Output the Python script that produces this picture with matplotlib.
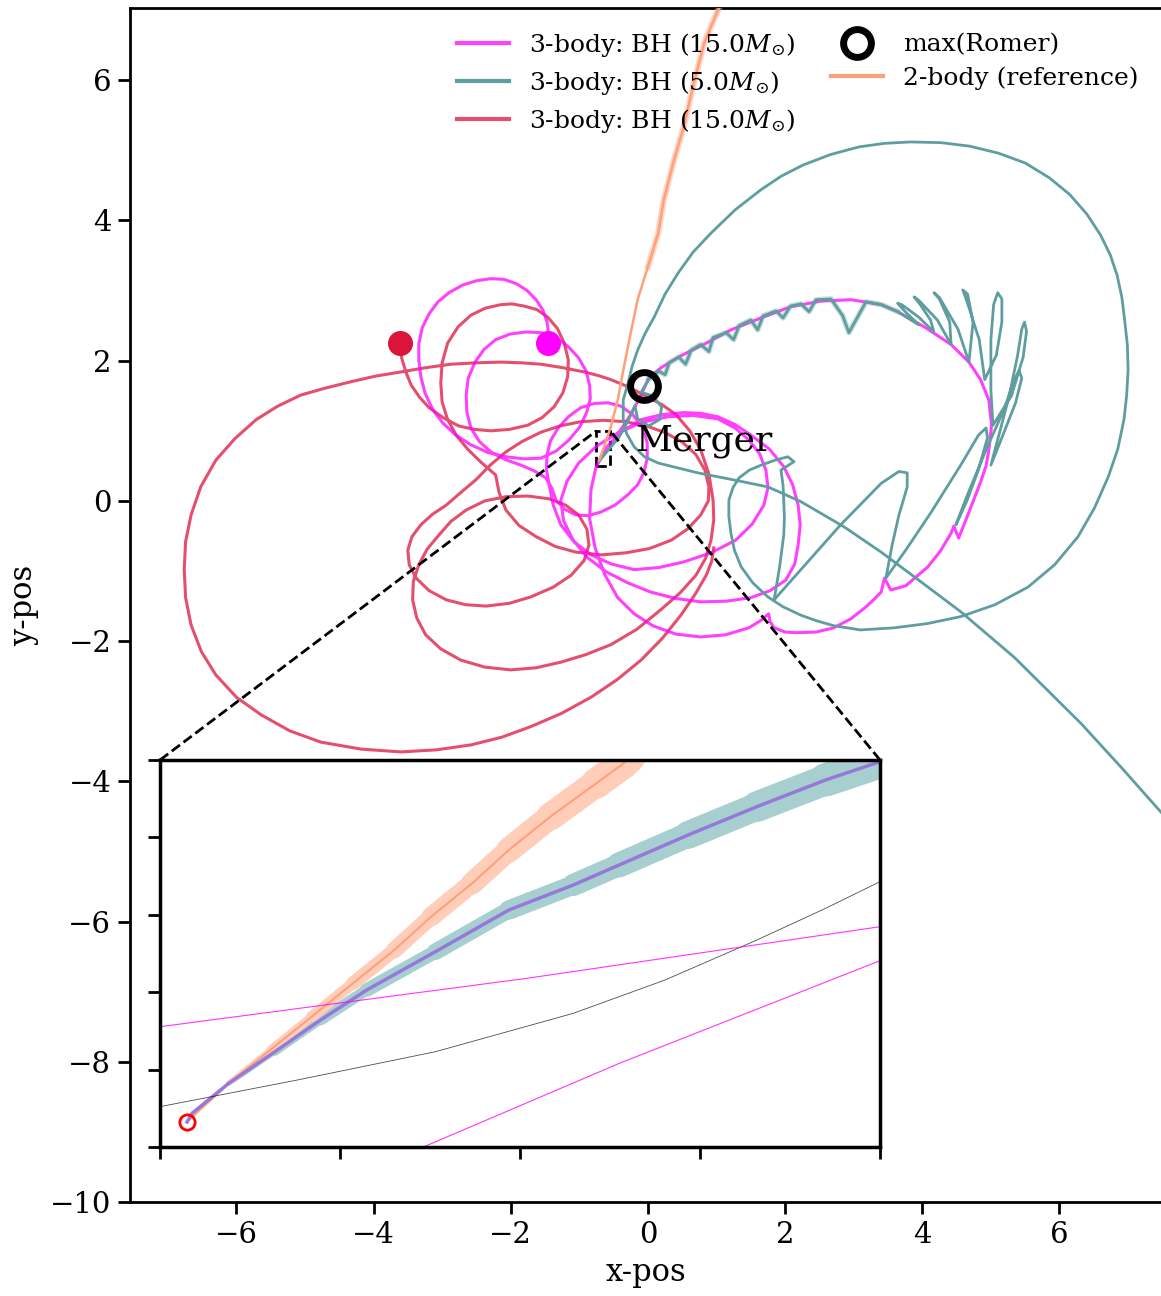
import numpy as np
import matplotlib
matplotlib.use("Agg")
import matplotlib.pyplot as plt
from matplotlib.collections import LineCollection
from mpl_toolkits.axes_grid1.inset_locator import mark_inset

plt.rcParams['font.family'] = 'serif'
plt.rcParams['mathtext.fontset'] = 'dejavuserif'

# ---- trajectories (x-pos, y-pos) ----
red_xy = [(-3.62, 2.25), (-3.60, 2.15), (-3.59, 2.04), (-3.53, 1.84), (-3.45, 1.65), (-3.33, 1.48),
          (-3.19, 1.33), (-2.99, 1.19), (-2.76, 1.07), (-2.53, 1.02), (-2.29, 1.00),
          (-2.02, 1.02), (-1.75, 1.08), (-1.54, 1.19), (-1.37, 1.34), (-1.24, 1.54), (-1.17, 1.77),
          (-1.16, 2.01), (-1.22, 2.25), (-1.32, 2.46), (-1.46, 2.62), (-1.62, 2.73), (-1.81, 2.78),
          (-1.98, 2.81), (-2.14, 2.80), (-2.37, 2.75), (-2.58, 2.65), (-2.77, 2.48), (-2.92, 2.25),
          (-3.00, 1.97), (-3.02, 1.68), (-3.00, 1.41), (-2.92, 1.16), (-2.79, 0.93), (-2.62, 0.73),
          (-2.42, 0.54),
          (-2.22, 0.37), (-2.17, 0.12), (-2.07, -0.13), (-1.88, -0.35), (-1.63, -0.51), (-1.35, -0.65),
          (-1.05, -0.73), (-0.68, -0.77), (-0.32, -0.74), (0.02, -0.68), (0.34, -0.56), (0.58, -0.40),
          (0.77, -0.20), (0.88, 0.00), (0.89, 0.20), (0.83, 0.44), (0.70, 0.66), (0.50, 0.84),
          (0.26, 0.97), (-0.02, 1.07), (-0.32, 1.13), (-0.65, 1.15), (-0.98, 1.13), (-1.28, 1.07),
          (-1.56, 0.98), (-1.83, 0.85), (-2.07, 0.70), (-2.30, 0.51), (-2.51, 0.30), (-2.74, 0.11),
          (-2.94, -0.06),
          (-3.14, -0.19), (-3.31, -0.34), (-3.44, -0.51), (-3.50, -0.70), (-3.48, -0.91), (-3.38, -1.10),
          (-3.19, -1.28), (-2.94, -1.41), (-2.66, -1.48), (-2.36, -1.50), (-2.02, -1.46), (-1.71, -1.37),
          (-1.38, -1.23), (-1.12, -1.06), (-0.93, -0.85), (-0.86, -0.63), (-0.89, -0.40), (-1.01, -0.20),
          (-1.20, -0.06), (-1.44, 0.03), (-1.75, 0.07), (-2.07, 0.06), (-2.38, 0.00), (-2.65, -0.13),
          (-2.87, -0.29), (-3.05, -0.49),
          (-3.22, -0.69), (-3.34, -0.91), (-3.42, -1.15), (-3.43, -1.41), (-3.37, -1.67), (-3.24, -1.91),
          (-3.02, -2.11), (-2.73, -2.27), (-2.38, -2.37), (-2.00, -2.41), (-1.63, -2.38), (-1.27, -2.30),
          (-0.90, -2.19), (-0.54, -2.05), (-0.16, -1.83), (0.19, -1.55), (0.47, -1.31), (0.70, -1.06),
          (0.84, -0.82), (0.92, -0.56), (0.96, -0.27), (0.95, 0.01), (0.89, 0.38), (0.77, 0.73),
          (0.61, 1.00), (0.41, 1.23), (0.21, 1.37), (0.00, 1.48), (-0.27, 1.62),
          (-0.54, 1.73), (-0.73, 1.79), (-0.93, 1.84), (-1.24, 1.90), (-1.56, 1.95), (-1.85, 1.97),
          (-2.14, 1.98), (-2.50, 1.97), (-2.87, 1.95), (-3.24, 1.90), (-3.60, 1.84), (-3.97, 1.78),
          (-4.33, 1.70), (-4.70, 1.61), (-5.06, 1.51), (-5.40, 1.35), (-5.71, 1.16), (-6.02, 0.89),
          (-6.30, 0.58), (-6.52, 0.20), (-6.66, -0.20), (-6.74, -0.58), (-6.76, -0.98), (-6.74, -1.38),
          (-6.66, -1.77), (-6.51, -2.15), (-6.30, -2.48), (-6.00, -2.80), (-5.64, -3.05), (-5.22, -3.28),
          (-4.77, -3.44), (-4.18, -3.54), (-3.60, -3.58), (-3.08, -3.55), (-2.58, -3.48), (-2.13, -3.37),
          (-1.71, -3.22), (-1.26, -3.03), (-0.83, -2.80), (-0.45, -2.55), (-0.10, -2.27), (0.21, -1.96),
          (0.48, -1.63), (0.69, -1.33), (0.85, -1.06), (0.93, -0.86), (0.96, -0.67)]

pink_xy = [(-1.46, 2.25), (-1.45, 2.40), (-1.47, 2.55), (-1.53, 2.72), (-1.63, 2.87), (-1.76, 3.00),
           (-1.92, 3.10), (-2.10, 3.16), (-2.29, 3.17), (-2.50, 3.14), (-2.70, 3.08), (-2.90, 2.97),
           (-3.06, 2.84), (-3.19, 2.67), (-3.29, 2.47), (-3.34, 2.24), (-3.34, 2.01), (-3.31, 1.77),
           (-3.25, 1.54), (-3.14, 1.31), (-2.99, 1.11), (-2.80, 0.94), (-2.58, 0.80), (-2.33, 0.69),
           (-2.07, 0.63), (-1.81, 0.60),
           (-1.56, 0.61), (-1.34, 0.71), (-1.15, 0.87), (-0.99, 1.06), (-0.89, 1.27), (-0.84, 1.46),
           (-0.85, 1.65), (-0.90, 1.85), (-1.01, 2.04), (-1.16, 2.20), (-1.34, 2.33), (-1.55, 2.40),
           (-1.78, 2.41), (-2.01, 2.38), (-2.22, 2.30), (-2.39, 2.16), (-2.52, 1.98), (-2.62, 1.75),
           (-2.65, 1.51), (-2.64, 1.27), (-2.58, 1.04), (-2.46, 0.85), (-2.29, 0.70), (-2.08, 0.59),
           (-1.85, 0.51), (-1.66, 0.43), (-1.49, 0.33),
           (-1.40, 0.18), (-1.34, 0.01), (-1.21, -0.12), (-1.05, -0.20), (-0.87, -0.21), (-0.69, -0.16),
           (-0.48, -0.06), (-0.29, 0.09), (-0.15, 0.23), (-0.06, 0.40), (-0.01, 0.61), (-0.01, 0.83),
           (-0.08, 1.05), (-0.22, 1.23), (-0.39, 1.35), (-0.58, 1.40), (-0.78, 1.39), (-0.98, 1.33),
           (-1.16, 1.20), (-1.31, 1.04), (-1.42, 0.86), (-1.47, 0.66), (-1.48, 0.45), (-1.44, 0.23),
           (-1.38, -0.06), (-1.27, -0.34), (-1.08, -0.58), (-0.83, -0.77), (-0.53, -0.90),
           (-0.20, -0.98), (0.16, -0.95), (0.52, -0.87), (0.92, -0.74), (1.28, -0.56), (1.52, -0.33),
           (1.69, -0.06), (1.75, 0.19), (1.72, 0.44), (1.63, 0.67), (1.47, 0.87), (1.27, 1.04),
           (1.02, 1.17), (0.66, 1.22), (0.29, 1.20), (-0.09, 1.12), (-0.44, 0.97), (-0.75, 0.78),
           (-1.01, 0.54), (-1.18, 0.28), (-1.27, 0.01), (-1.23, -0.28), (-1.09, -0.56), (-0.88, -0.81),
           (-0.61, -1.01), (-0.29, -1.17), (0.04, -1.30), (0.40, -1.39), (0.77, -1.44), (1.14, -1.43),
           (1.50, -1.38), (1.78, -1.28), (2.01, -1.13), (2.14, -0.90),
           (2.19, -0.63), (2.22, -0.34), (2.19, -0.06), (2.11, 0.23), (1.98, 0.49), (1.77, 0.74),
           (1.50, 0.94), (1.27, 1.09), (1.02, 1.20), (0.77, 1.25), (0.52, 1.26), (0.20, 1.23),
           (-0.10, 1.16), (-0.38, 0.99), (-0.61, 0.76), (-0.76, 0.47), (-0.83, 0.16), (-0.85, -0.25),
           (-0.77, -0.67), (-0.63, -1.05), (-0.44, -1.38), (-0.20, -1.61), (0.07, -1.78), (0.41, -1.90),
           (0.77, -1.94), (1.13, -1.91), (1.47, -1.81), (1.64, -1.71), (1.76, -1.61), (1.78, -1.72),
           (1.84, -1.81), (2.00, -1.87), (2.16, -1.88), (2.45, -1.87), (2.71, -1.81), (2.96, -1.68),
           (3.18, -1.51), (3.30, -1.40), (3.40, -1.30), (3.45, -1.10), (3.54, -1.27), (3.76, -1.21),
           (4.08, -0.94), (4.26, -0.72), (4.42, -0.46), (4.46, -0.36), (4.53, -0.53), (4.68, -0.16),
           (4.85, 0.27), (4.93, 0.50), (4.97, 0.73), (5.01, 1.08), (4.97, 1.44), (4.85, 1.73),
           (4.68, 1.98), (4.42, 2.23), (4.05, 2.47), (3.64, 2.70), (3.40, 2.80), (2.96, 2.87),
           (2.52, 2.85), (2.08, 2.77), (1.65, 2.61), (1.21, 2.44), (0.85, 2.25), (0.48, 2.07),
           (0.19, 1.90), (0.01, 1.75), (-0.10, 1.51), (-0.25, 1.23), (-0.47, 0.91), (-0.71, 0.58)]

teal_xy = [(7.77, -4.62), (7.49, -4.45), (6.90, -3.80), (6.31, -3.17), (5.34, -2.23), (4.56, -1.58),
           (3.88, -1.08), (3.40, -0.73), (2.86, -0.37), (2.23, -0.01), (1.75, 0.20), (1.25, 0.30),
           (0.73, 0.40), (0.15, 0.54), (-0.05, 0.63), (-0.20, 0.77), (-0.31, 0.96), (-0.36, 1.16),
           (-0.36, 1.44), (-0.29, 1.68), (-0.23, 1.92), (-0.15, 2.15), (-0.04, 2.39), (0.09, 2.62),
           (0.25, 2.95), (0.44, 3.25), (0.66, 3.55), (0.92, 3.82), (1.27, 4.15), (1.65, 4.44),
           (1.94, 4.63), (2.26, 4.79), (2.66, 4.94), (3.08, 5.05), (3.45, 5.10), (3.83, 5.12),
           (4.27, 5.11), (4.69, 5.06), (5.11, 4.96), (5.50, 4.82), (5.85, 4.61), (6.15, 4.37),
           (6.40, 4.09), (6.60, 3.79), (6.74, 3.51), (6.84, 3.22), (6.91, 2.90), (6.95, 2.58),
           (6.99, 2.22), (7.00, 1.87), (6.98, 1.51), (6.94, 1.16), (6.85, 0.74), (6.71, 0.34),
           (6.51, -0.10), (6.27, -0.51), (5.93, -0.91), (5.54, -1.23), (5.06, -1.48), (4.56, -1.65),
           (4.07, -1.75), (3.59, -1.81), (3.10, -1.84), (2.71, -1.78), (2.46, -1.71), (2.23, -1.63),
           (1.97, -1.51), (1.75, -1.37), (1.53, -1.17), (1.36, -0.94), (1.26, -0.70), (1.21, -0.46),
           (1.18, -0.22), (1.18, 0.01), (1.24, 0.19), (1.33, 0.33), (1.48, 0.44), (1.65, 0.51),
           (1.85, 0.58), (2.04, 0.63), (2.13, 0.56), (1.94, 0.44), (1.97, 0.22), (1.98, 0.01),
           (1.99, -0.25), (1.98, -0.49), (1.95, -0.72), (1.92, -0.94), (1.84, -1.41),
           (2.23, -0.98), (2.81, -0.34), (3.40, 0.25), (3.66, 0.42), (3.78, 0.40), (3.78, 0.20),
           (3.66, -0.20), (3.56, -0.63), (3.47, -1.10),
           (3.76, -0.70), (4.13, -0.16), (4.56, 0.51), (4.82, 0.94), (4.93, 1.04), (4.95, 0.90),
           (4.82, 0.45), (4.65, 0.00), (4.49, -0.34),
           (4.66, 0.09), (4.93, 0.73), (5.19, 1.30), (5.33, 1.70), (5.41, 1.86), (5.45, 1.75),
           (5.36, 1.40), (5.18, 0.95), (5.00, 0.51),
           (5.12, 0.95), (5.27, 1.51), (5.39, 2.08), (5.45, 2.45), (5.49, 2.55), (5.52, 2.42),
           (5.47, 2.05), (5.30, 1.50), (5.03, 1.08),
           (5.00, 1.58), (5.00, 2.30), (5.04, 2.80), (5.10, 2.97), (5.16, 2.88), (5.16, 2.55),
           (5.08, 2.08), (4.91, 1.73),
           (4.83, 2.30), (4.65, 2.85), (4.59, 3.01), (4.66, 2.95), (4.74, 2.55), (4.68, 1.98),
           (4.52, 2.45), (4.25, 2.90), (4.17, 2.97), (4.25, 2.88), (4.40, 2.55), (4.42, 2.23),
           (4.22, 2.58), (3.95, 2.86), (3.88, 2.91), (3.97, 2.80), (4.12, 2.58), (4.17, 2.41),
           (3.95, 2.62), (3.70, 2.80), (3.64, 2.82), (3.75, 2.70), (3.95, 2.51),
           (3.64, 2.70), (3.40, 2.80), (3.18, 2.84), (3.05, 2.61), (2.93, 2.40), (2.84, 2.64),
           (2.67, 2.88), (2.45, 2.87), (2.35, 2.70), (2.23, 2.81), (2.08, 2.78), (1.97, 2.61),
           (1.87, 2.71), (1.68, 2.64), (1.60, 2.44), (1.50, 2.58), (1.33, 2.50), (1.25, 2.30),
           (1.14, 2.40), (0.95, 2.33), (0.89, 2.13), (0.77, 2.23), (0.63, 2.15), (0.55, 1.95),
           (0.45, 2.05), (0.31, 1.97), (0.25, 1.80), (0.16, 1.85), (0.01, 1.73),
           (-0.10, 1.55), (0.07, 1.50), (0.20, 1.34), (0.17, 1.16), (0.01, 1.07), (-0.15, 1.17),
           (-0.19, 1.36), (-0.28, 1.16), (-0.42, 0.91), (-0.60, 0.70), (-0.71, 0.57)]

orange_xy = [(1.15, 7.22), (1.02, 7.00), (0.82, 6.53), (0.67, 5.96), (0.58, 5.58), (0.51, 5.29),
             (0.38, 4.86), (0.23, 4.29), (0.15, 3.82), (0.00, 3.34), (-0.15, 2.87), (-0.25, 2.40),
             (-0.35, 1.91), (-0.44, 1.44), (-0.54, 1.06), (-0.64, 0.77), (-0.71, 0.58)]

red_start = (-3.62, 2.25)
pink_start = (-1.46, 2.25)
romer_max = (-0.06, 1.64)
merger_pt = (-0.7425, 0.532)

# zoomed region near the merger
inset_xlim = (-0.75, -0.55)
inset_ylim = (0.5, 1.0)
orange_zoom = [(-0.7425, 0.5323), (-0.7385, 0.5500), (-0.7309, 0.5823), (-0.7194, 0.6253),
               (-0.7079, 0.6683), (-0.6964, 0.7115), (-0.6849, 0.7545), (-0.6747, 0.7975),
               (-0.6633, 0.8407), (-0.6531, 0.8837), (-0.6416, 0.9267), (-0.6288, 0.9699),
               (-0.6212, 0.9957), (-0.6194, 1.0039)]
teal_zoom = [(-0.7425, 0.5323), (-0.7411, 0.5435), (-0.7309, 0.5823), (-0.7181, 0.6231),
             (-0.7054, 0.6641), (-0.6926, 0.7028), (-0.6735, 0.7523), (-0.6531, 0.8062),
             (-0.6352, 0.8385), (-0.6225, 0.8643), (-0.6033, 0.9031), (-0.5842, 0.9397),
             (-0.5651, 0.9742), (-0.5500, 0.9978), (-0.5444, 1.0103)]
black_zoom = [(-0.7500, 0.5521), (-0.7118, 0.5866), (-0.6735, 0.6231), (-0.6352, 0.6727),
              (-0.6097, 0.7158), (-0.5842, 0.7674), (-0.5651, 0.8084), (-0.5500, 0.8428)]
pink_zoom_a = [(-0.7500, 0.6554), (-0.6480, 0.7180), (-0.5500, 0.7846)]
pink_zoom_b = [(-0.6773, 0.4991), (-0.6222, 0.6085), (-0.5500, 0.7407)]

c_pink = 'magenta'
c_teal = 'cadetblue'
c_red = 'crimson'
c_orange = 'lightsalmon'

fig = plt.figure(figsize=(11.61, 12.96), dpi=100)
ax = fig.add_axes([0.112, 0.0725, 0.888, 0.9213])


def xy(pts):
    a = np.array(pts)
    return a[:, 0], a[:, 1]


ax.plot(*xy(red_xy), color=c_red, alpha=0.75, lw=2.2, zorder=2)
ax.plot(*xy(pink_xy), color=c_pink, alpha=0.75, lw=2.2, zorder=3)
ax.plot(*xy(teal_xy), color=c_teal, lw=2.0, zorder=4)
# fuzzy band where the light BH winds along its companion
arc0 = teal_xy.index((3.64, 2.70))
arc1 = teal_xy.index((0.01, 1.73))
ax.plot(*xy(teal_xy[arc0:arc1 + 1]), color=c_teal, lw=4, alpha=0.35, zorder=4)
ax.plot(*xy(orange_xy[:10]), color=c_orange, lw=4.5, alpha=0.45, zorder=5)
ax.plot(*xy(orange_xy), color=c_orange, lw=1.8, zorder=5)

ax.plot(*red_start, 'o', color=c_red, ms=17, zorder=6)
ax.plot(*pink_start, 'o', color=c_pink, ms=17, zorder=6)
ax.plot(*romer_max, 'o', mfc='none', mec='k', ms=20, mew=5, zorder=7)
ax.text(-0.19, 0.85, 'Merger', fontsize=26, va='center', ha='left', zorder=8)

ax.set_xlim(-7.55, 7.48)
ax.set_ylim(-10, 7.03)
ax.set_xticks(np.arange(-6, 7, 2))
ax.set_yticks(np.arange(-10, 7, 2))
ax.spines['right'].set_visible(False)
for s in ['left', 'bottom', 'top']:
    ax.spines[s].set_linewidth(2)
ax.tick_params(direction='out', length=8.5, width=2, labelsize=21, pad=5)
ax.set_xlabel('x-pos', fontsize=22, labelpad=6)
ax.set_ylabel('y-pos', fontsize=22, labelpad=8)

handles = [
    plt.Line2D([], [], color=c_pink, alpha=0.75, lw=3, label=r'3-body: BH (15.0$M_{\odot}$)'),
    plt.Line2D([], [], color=c_teal, lw=3, label=r'3-body: BH (5.0$M_{\odot}$)'),
    plt.Line2D([], [], color=c_red, alpha=0.75, lw=3, label=r'3-body: BH (15.0$M_{\odot}$)'),
    plt.Line2D([], [], ls='none', marker='o', mfc='none', mec='k', ms=20, mew=5, label='max(Romer)'),
    plt.Line2D([], [], color=c_orange, lw=3, label='2-body (reference)'),
]
ax.legend(handles=handles, ncol=2, loc='upper right', bbox_to_anchor=(1.0, 1.0),
          frameon=False, fontsize=18, handlelength=2.1, columnspacing=1.4, labelspacing=0.4)

# inset
axins = fig.add_axes([160 / 1161, 1 - 1147 / 1296, 720 / 1161, 387 / 1296])
axins.set_xlim(*inset_xlim)
axins.set_ylim(*inset_ylim)
axins.set_xticks(np.linspace(inset_xlim[0], inset_xlim[1], 5))
axins.set_yticks(np.linspace(inset_ylim[0], inset_ylim[1], 6))
axins.tick_params(direction='out', length=8.5, width=2, labelbottom=False, labelleft=False)
for s in axins.spines.values():
    s.set_linewidth(2.5)


def ribbon(pts, widths, color):
    a = np.array(pts)
    segs = [a[i:i + 2] for i in range(len(a) - 1)]
    lc = LineCollection(segs, linewidths=widths, colors=color, capstyle='round')
    axins.add_collection(lc)


ribbon(teal_zoom, [1, 2, 4, 6, 8, 10, 12, 14, 16, 18, 20, 22, 24, 24], '#a7cfd0')
ribbon(orange_zoom, [1, 2, 4, 6, 8, 10, 12, 14, 16, 18, 20, 22, 22], '#ffcdb8')
axins.plot(*xy(orange_zoom), color='lightsalmon', lw=1.5)
axins.plot(*xy(teal_zoom), color='mediumpurple', lw=2.5, alpha=0.9)
axins.plot(*xy(black_zoom), color='k', lw=0.6, alpha=0.7)
axins.plot(*xy(pink_zoom_a), color=c_pink, lw=0.8, alpha=0.8)
axins.plot(*xy(pink_zoom_b), color=c_pink, lw=0.8, alpha=0.8)
axins.plot(*merger_pt, 'o', mfc='none', mec='red', ms=11, mew=2)

mark_inset(ax, axins, loc1=1, loc2=2, fc='none', ec='k', ls='--', lw=2)

fig.savefig('out.png', dpi=100)
